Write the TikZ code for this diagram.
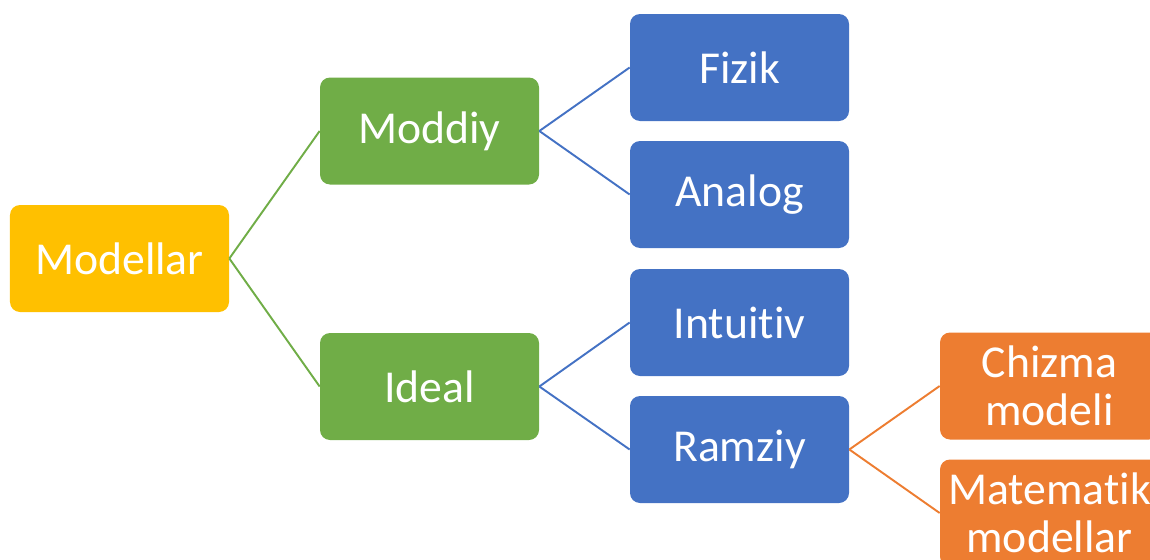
\documentclass[tikz,border=0pt]{standalone}
\usepackage{fontspec}
\setmainfont[Ligatures=NoCommon]{Carlito}
\usepackage{tikz}
\definecolor{cyellow}{HTML}{FFC000}
\definecolor{cgreen}{HTML}{70AD47}
\definecolor{cblue}{HTML}{4472C4}
\definecolor{corange}{HTML}{ED7D31}
\tikzset{
	box/.style={rounded corners=0.2cm, minimum width=4.38cm, minimum height=2.14cm,
		text=white, font=\fontsize{26}{27.5}\selectfont, align=center, inner sep=0pt},
	link/.style={line width=1.1pt}
}
\begin{document}
\begin{tikzpicture}
	\useasboundingbox (0,0) rectangle (23,-11.2);
	\node[box, fill=cyellow] (modellar) at (2.39,-5.17) {Modellar};

	\node[box, fill=cgreen] (moddiy) at (8.59,-2.62) {Moddiy};
	\node[box, fill=cgreen] (ideal) at (8.59,-7.73) {Ideal};

	\node[box, fill=cblue] (fizik) at (14.79,-1.35) {Fizik};
	\node[box, fill=cblue] (analog) at (14.79,-3.89) {Analog};
	\node[box, fill=cblue] (intuitiv) at (14.79,-6.45) {Intuitiv};
	\node[box, fill=cblue] (ramziy) at (14.79,-8.99) {Ramziy};

	\node[box, fill=corange] (chizma) at (20.99,-7.72) {Chizma\\modeli};
	\node[box, fill=corange] (matematik) at (20.99,-10.26) {Matematik\\modellar};

\draw[link, cgreen] (modellar.east) -- (moddiy.west); \draw[link, cgreen] (modellar.east) -- (ideal.west);
\draw[link, cblue] (moddiy.east) -- (fizik.west); \draw[link, cblue] (moddiy.east) -- (analog.west);
\draw[link, cblue] (ideal.east) -- (intuitiv.west); \draw[link, cblue] (ideal.east) -- (ramziy.west);
\draw[link, corange] (ramziy.east) -- (chizma.west); \draw[link, corange] (ramziy.east) -- (matematik.west);

\end{tikzpicture}
\end{document}
